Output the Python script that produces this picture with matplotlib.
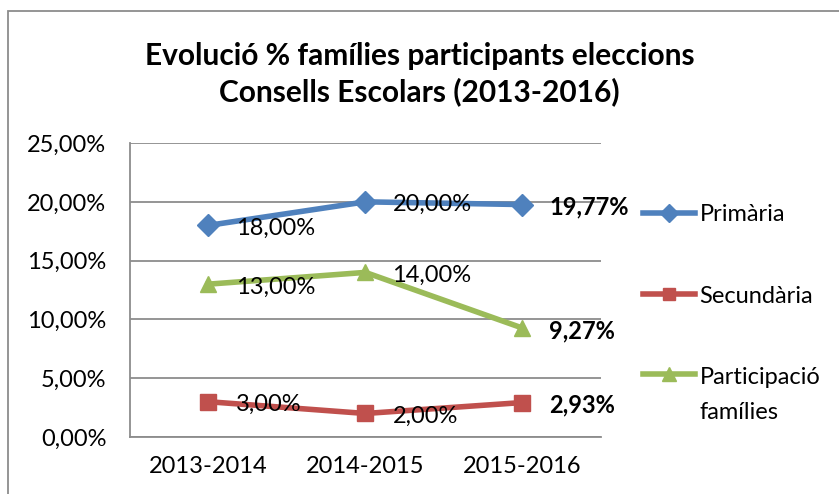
import matplotlib.pyplot as plt
from matplotlib.patches import Rectangle
from matplotlib.ticker import FuncFormatter, MultipleLocator
from matplotlib.transforms import ScaledTranslation

plt.rcParams["font.family"] = ["Lato", "DejaVu Sans"]

cursos = ["2013-2014", "2014-2015", "2015-2016"]
primaria = [18.00, 20.00, 19.77]
secundaria = [3.00, 2.00, 2.93]
participacio = [13.00, 14.00, 9.27]

series = [
    ("Primària", primaria, "#4F81BD", "D", 11),
    ("Secundària", secundaria, "#C0504D", "s", 11),
    ("Participació\nfamílies", participacio, "#9BBB59", "^", 12),
]


def pct(v, pos=None):
    return f"{v:.2f}%".replace(".", ",")


fig = plt.figure(figsize=(8.39, 4.94), dpi=100)
ax = fig.add_axes([0.155, 0.1154, 0.561, 0.595])

x = list(range(len(cursos)))
for nom, vals, col, mk, ms in series:
    ax.plot(x, vals, color=col, lw=4, marker=mk, markersize=ms,
            markeredgecolor=col, label=nom, zorder=3)
    for i, v in enumerate(vals):
        last = i == len(vals) - 1
        ax.annotate(pct(v), (i, v), xytext=(19.5, -2), textcoords="offset points",
                    va="center", ha="left", fontsize=17,
                    fontweight="bold" if last else "normal", zorder=4)

ax.set_xlim(-0.5, 2.5)
ax.set_ylim(0, 25)
ax.yaxis.set_major_locator(MultipleLocator(5))
ax.yaxis.set_major_formatter(FuncFormatter(pct))
ax.set_xticks(x)
ax.set_xticklabels(cursos)
ax.tick_params(axis="both", length=0, labelsize=17)
ax.tick_params(axis="y", pad=17)
ax.tick_params(axis="x", pad=14)
ax.grid(axis="y", color="#8c8c8c", lw=1.3)
ax.set_axisbelow(True)
for s in ["top", "right"]:
    ax.spines[s].set_visible(False)
for s in ["left", "bottom"]:
    ax.spines[s].set_color("#8c8c8c")
    ax.spines[s].set_linewidth(1.3)

fig.suptitle("Evolució % famílies participants eleccions\nConsells Escolars (2013-2016)",
             fontsize=21.5, fontweight="bold", y=0.915, linespacing=1.3)

leg = fig.legend(loc="upper left", bbox_to_anchor=(0.752, 0.61), frameon=False,
                 fontsize=17, handlelength=2.2, handletextpad=0.2, labelspacing=2.55,
                 markerscale=0.85, borderpad=0)
leg.get_texts()[2].set_linespacing(1.85)
# marcador de la tercera entrada alineat amb la primera línia del text
h = leg.legend_handles[2]
h.set_transform(h.get_transform() + ScaledTranslation(0, 15.5 / 72, fig.dpi_scale_trans))

fig.add_artist(Rectangle((8 / 839, -0.1), 2, 1.1 - 11 / 494, transform=fig.transFigure,
                         fill=False, edgecolor="#8c8c8c", lw=1.3))

fig.savefig("out.png", dpi=100)
